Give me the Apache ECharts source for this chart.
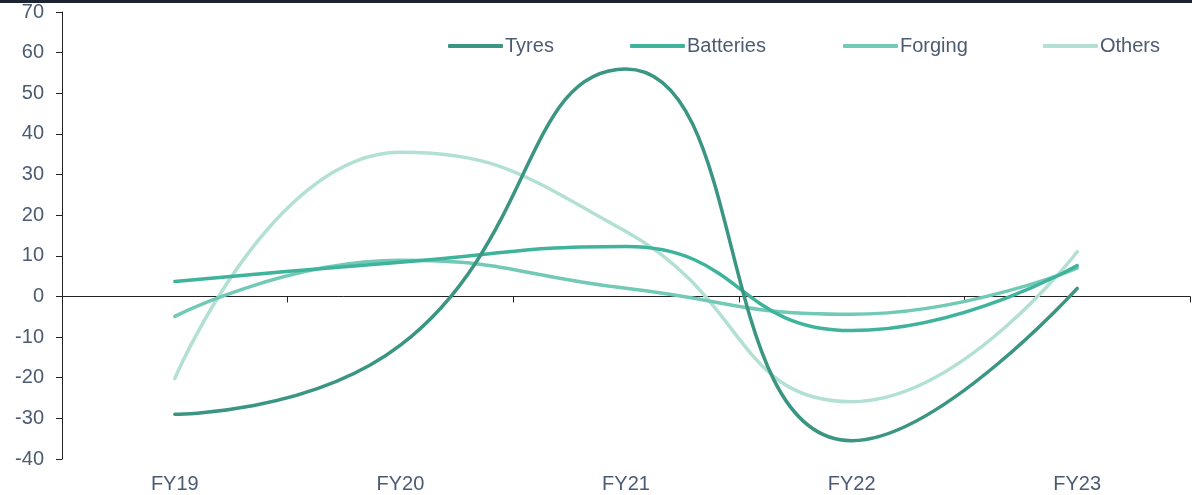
<!DOCTYPE html>
<html><head><meta charset="utf-8">
<script src="https://cdn.jsdelivr.net/npm/echarts@6/dist/echarts.min.js"></script>
<style>html,body{margin:0;padding:0;background:#fff;}#bar{position:absolute;left:0;top:0;width:1192px;height:3px;background:#1b2430;}#c{width:1192px;height:495px;}</style>
</head><body><div id="c"></div><div id="bar"></div>
<script>
const categories = ['FY19','FY20','FY21','FY22','FY23'];
const tyres = [-29, -12, 56, -35.5, 2];
const batteries = [3.7, 8.4, 12.3, -8.4, 7.6];
const forging = [-4.9, 8.9, 2, -4.4, 7];
const others = [-20.2, 35.5, 16, -25.9, 11];
const yTicks = {min: -40, max: 70, interval: 10};

const colors = {Tyres:'#3a9582', Batteries:'#3fb39c', Forging:'#72c9b6', Others:'#b3e0d5'};
const textColor = '#4b5b73';
const font = 'Liberation Sans, Arial, sans-serif';

function mk(name, data){
  return {name, type:'line', data, smooth:0.5, symbol:'none', xAxisIndex:0,
    lineStyle:{width:3.5, color:colors[name], cap:'round'}, itemStyle:{color:colors[name]}};
}
const legendPos = {Tyres:443, Batteries:625, Forging:838, Others:1038};
const legends = Object.keys(legendPos).map(n=>({
  data:[n], left:legendPos[n], top:31, icon:'roundRect', itemWidth:55, itemHeight:4, itemGap:5,
  textStyle:{color:textColor, fontSize:20, fontFamily:font, padding:[0,0,0,-3]}
}));
const chart = echarts.init(document.getElementById('c'), null, {renderer:'canvas'});
chart.setOption({
  animation:false,
  legend: legends,
  grid:{left:62, right:2, top:12, bottom:36, containLabel:false},
  xAxis:[
    {type:'category', data:categories, boundaryGap:true,
      axisLine:{show:true, onZero:true, lineStyle:{color:'#222', width:1}},
      axisTick:{show:true, inside:false, length:6, lineStyle:{color:'#222'}},
      axisLabel:{show:false}},
    {type:'category', data:categories, boundaryGap:true, position:'bottom',
      axisLine:{show:false, onZero:false}, axisTick:{show:false},
      axisLabel:{show:true, color:textColor, fontSize:20, fontFamily:font, margin:15}}
  ],
  yAxis:{type:'value', min:yTicks.min, max:yTicks.max, interval:yTicks.interval,
    axisLine:{show:true, lineStyle:{color:'#222', width:1}},
    axisTick:{show:true, length:6, lineStyle:{color:'#222'}},
    splitLine:{show:false},
    axisLabel:{color:textColor, fontSize:20, fontFamily:font, margin:18}},
  series:[mk('Others', others), mk('Forging', forging), mk('Batteries', batteries), mk('Tyres', tyres)]
});
</script></body></html>
